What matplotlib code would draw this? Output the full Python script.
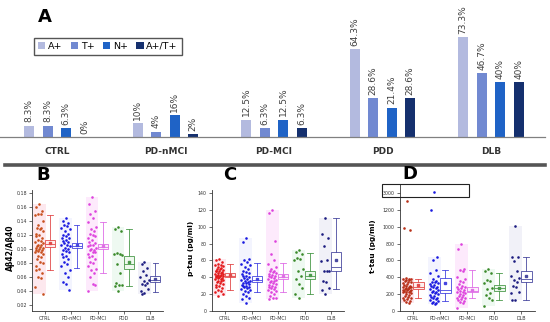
import numpy as np
import matplotlib
matplotlib.use("Agg")
import matplotlib.pyplot as plt
from matplotlib.patches import Patch, Rectangle
from matplotlib.lines import Line2D

# ---------------- data ----------------
groups = ["CTRL", "PD-nMCI", "PD-MCI", "PDD", "DLB"]

# Panel A: percent positive
a_pos = [8.3, 10, 12.5, 64.3, 73.3]
t_pos = [8.3, 4, 6.3, 28.6, 46.7]
n_pos = [6.3, 16, 12.5, 21.4, 40]
at_pos = [0, 2, 6.3, 28.6, 40]
a_series = ["A+", "T+", "N+", "A+/T+"]

# Panel B: Abeta42/Abeta40
b_ctrl = [0.165, 0.16, 0.155, 0.15, 0.15, 0.148, 0.14, 0.135, 0.13, 0.13, 0.128, 0.125, 0.122,
          0.12, 0.118, 0.115, 0.113, 0.112, 0.11, 0.108, 0.106, 0.105, 0.104, 0.103, 0.102,
          0.101, 0.1, 0.099, 0.098, 0.097, 0.096, 0.095, 0.093, 0.09, 0.088, 0.085, 0.082,
          0.08, 0.075, 0.072, 0.07, 0.065, 0.06, 0.058, 0.045, 0.036]
b_nmci = [0.145, 0.14, 0.137, 0.135, 0.133, 0.13, 0.128, 0.125, 0.122, 0.12, 0.118, 0.116,
          0.115, 0.113, 0.112, 0.11, 0.108, 0.106, 0.105, 0.104, 0.102, 0.1, 0.099, 0.097,
          0.095, 0.093, 0.09, 0.088, 0.085, 0.082, 0.078, 0.075, 0.07, 0.065, 0.06, 0.053,
          0.05, 0.041]
b_mci = [0.175, 0.165, 0.155, 0.15, 0.145, 0.138, 0.132, 0.128, 0.125, 0.122, 0.12, 0.118,
         0.115, 0.113, 0.11, 0.108, 0.106, 0.105, 0.104, 0.102, 0.1, 0.099, 0.098, 0.096,
         0.095, 0.093, 0.09, 0.088, 0.085, 0.082, 0.08, 0.076, 0.072, 0.07, 0.065, 0.06,
         0.05, 0.048, 0.04]
b_pdd = [0.132, 0.128, 0.125, 0.094, 0.093, 0.092, 0.093, 0.079, 0.065, 0.052, 0.049, 0.048,
         0.047, 0.040]
b_dlb = [0.081, 0.079, 0.073, 0.068, 0.063, 0.06, 0.056, 0.054, 0.051, 0.05, 0.049, 0.043,
         0.04, 0.037, 0.035]
# box stats: whislo, q1, med, mean, q3, whishi
b_box = [[0.070, 0.1033, 0.1075, 0.1086, 0.1128, 0.149],
         [0.073, 0.101, 0.1045, 0.105, 0.108, 0.134],
         [0.065, 0.100, 0.1035, 0.104, 0.107, 0.138],
         [0.047, 0.072, 0.079, 0.081, 0.090, 0.128],
         [0.038, 0.053, 0.056, 0.057, 0.062, 0.080]]

# Panel C: p-tau
c_ctrl = [62, 60, 58, 56, 55, 54, 53, 52, 51, 50, 50, 49, 48, 47, 47, 46, 45, 45, 44, 44, 43,
          43, 42, 42, 41, 41, 40, 40, 39, 39, 38, 38, 37, 36, 35, 34, 33, 32, 31, 30, 28, 27,
          25, 24, 22, 20, 18]
c_nmci = [87, 82, 62, 60, 58, 56, 54, 52, 50, 48, 46, 45, 44, 42, 41, 40, 39, 38, 37, 36, 35,
          34, 33, 33, 32, 31, 30, 30, 29, 28, 27, 26, 25, 24, 22, 20, 18, 16, 14, 10]
c_mci = [120, 116, 83, 68, 60, 56, 52, 50, 48, 47, 46, 45, 44, 43, 42, 41, 40, 39, 38, 37, 36,
         35, 34, 33, 32, 31, 30, 29, 28, 27, 26, 25, 24, 22, 20, 18, 16, 15, 14]
c_pdd = [72, 70, 68, 63, 62, 60, 50, 47, 42, 38, 32, 27, 20, 15]
c_dlb = [110, 91, 87, 77, 61, 59, 47, 47, 47, 36, 34, 27, 25, 20]
c_box = [[25, 40, 42, 42.5, 45, 56],
         [22, 34, 37, 37.5, 41, 57],
         [23, 38, 40, 41, 44, 57],
         [20, 38, 42, 43, 48, 69],
         [26, 47, 52, 61, 70, 110]]

# Panel D: t-tau
d_ctrl = [1310, 990, 960, 390, 385, 380, 375, 370, 365, 360, 350, 340, 330, 320, 310, 300,
          295, 290, 285, 280, 275, 270, 265, 260, 255, 250, 245, 240, 235, 230, 225, 220, 210,
          200, 190, 180, 170, 160, 150, 140, 130, 120, 110, 100]
d_nmci = [3200, 1200, 640, 610, 490, 450, 410, 380, 360, 350, 340, 330, 320, 310, 300, 290,
          280, 270, 260, 250, 240, 230, 220, 210, 200, 190, 180, 170, 160, 150, 140, 130, 120,
          110, 100, 90, 80]
d_mci = [800, 740, 500, 490, 480, 400, 380, 360, 340, 320, 300, 290, 280, 270, 260, 250, 240,
         230, 220, 210, 200, 190, 180, 170, 160, 150, 140, 130, 120, 110, 100, 40]
d_pdd = [495, 470, 450, 370, 360, 330, 270, 260, 210, 190, 150, 130, 60]
d_dlb = [1010, 645, 640, 595, 470, 410, 395, 370, 350, 300, 290, 230, 210, 130, 130]
d_box = [[155, 265, 280, 310, 350, 375],
         [115, 215, 250, 330, 390, 490],
         [150, 222, 240, 250, 289, 490],
         [125, 237, 270, 275, 309, 455],
         [130, 340, 380, 410, 475, 645]]

# ---------------- style ----------------
W, H = 550, 322
fig = plt.figure(figsize=(W / 100, H / 100), dpi=100)
plt.rcParams["font.family"] = ["DejaVu Sans"]


def px_axes(l, t, r, b):
    return fig.add_axes([l / W, 1 - b / H, (r - l) / W, (b - t) / H])


bar_colors = ["#b3badf", "#7189d1", "#1f63c6", "#15306e"]

# ---------------- Panel A ----------------
axA = px_axes(0, 0, 545, 137)
series = [a_pos, t_pos, n_pos, at_pos]
x = np.arange(len(groups))
offs = [-1.5, -0.5, 0.5, 1.5]
step = 0.1705
for k, vals in enumerate(series):
    axA.bar(x + offs[k] * step, vals, width=0.092, color=bar_colors[k], zorder=2)
    for bx, v in zip(x + offs[k] * step, vals):
        axA.annotate(f"{v:g}%", (bx, v), xytext=(0, 2.5), textcoords="offset points",
                     rotation=90, ha="center", va="bottom", fontsize=6.5, color="#404040")
axA.set_xlim(-0.525, 4.498)
axA.set_ylim(0, 100.4)
for s in ["top", "right", "left"]:
    axA.spines[s].set_visible(False)
axA.spines["bottom"].set_color("#808080")
axA.spines["bottom"].set_linewidth(0.9)
axA.set_yticks([])
axA.set_xticks(x)
axA.set_xticklabels(groups, fontsize=6.5, fontweight="bold", color="#333333")
axA.tick_params(axis="x", length=0, pad=7)
axA.patch.set_alpha(0)

handles = [Patch(facecolor=c, edgecolor="none") for c in bar_colors]
fig.legend(handles, a_series, loc="upper left", bbox_to_anchor=(29 / W, 1 - 33 / H),
           ncol=4, fontsize=6.8, frameon=True, fancybox=False, edgecolor="#555555",
           handlelength=0.75, handleheight=0.75, handletextpad=0.3, columnspacing=0.9,
           borderpad=0.45, framealpha=1)
fig.text(45 / W, 1 - 17 / H, "A", fontsize=13, fontweight="bold", ha="center", va="center")

fig.add_artist(Line2D([5 / W, 545 / W], [1 - 165 / H, 1 - 165 / H], lw=2.6, color="#555555"))

# ---------------- Panels B, C, D ----------------
dot_colors_base = ["#e31a1c", "#1a1ae0", "#dd44dd", "#3a8a2a", "#1c1c80"]
box_colors = ["#e24a4a", "#4545e0", "#de6ee6", "#4a9a4a", "#4a4aa0"]
box_faces = ["#fdeeee", "#ffffff", "#fdeefb", "#eef8ee", "#ffffff"]
shade_colors = ["#fde8ee", "#f3f4fe", "#fdeafc", "#eef9f1", "#f1f1f8"]
jit = [0.0, -0.11, 0.11, -0.055, 0.055, -0.16, 0.16, -0.03, 0.085, -0.085, 0.03, 0.135, -0.135]


def draw_panel(ax, datas, boxes, ctrl_color):
    cols = [ctrl_color] + dot_colors_base[1:]
    for i, (vals, st) in enumerate(zip(datas, boxes)):
        vals = np.asarray(vals, float)
        cx = i - 0.22
        keep = vals[vals <= 2.2 * st[5]]
        ax.add_patch(Rectangle((cx - 0.24, keep.min()), 0.48, keep.max() - keep.min(),
                               facecolor=shade_colors[i], edgecolor="none", zorder=0))
        order = np.argsort(-vals)
        xs = np.empty(len(vals))
        for r, idx in enumerate(order):
            xs[idx] = cx + jit[r % len(jit)]
        ax.scatter(xs, vals, s=3.5, color=cols[i], linewidths=0, zorder=3)
        stats = [dict(whislo=st[0], q1=st[1], med=st[2], mean=st[3], q3=st[4], whishi=st[5],
                      fliers=[])]
        c = box_colors[i]
        ax.bxp(stats, positions=[i + 0.2], widths=0.38, showmeans=True, patch_artist=True,
               boxprops=dict(facecolor=box_faces[i], edgecolor=c, linewidth=0.6),
               whiskerprops=dict(color=c, linewidth=0.6),
               capprops=dict(color=c, linewidth=0.6),
               medianprops=dict(color=c, linewidth=0.6),
               meanprops=dict(marker="s", markersize=1.6, markerfacecolor=c,
                              markeredgecolor=c),
               capwidths=0.22, manage_ticks=False)
    ax.set_xlim(-0.5, 4.5)
    ax.set_xticks(np.arange(5))
    ax.set_xticklabels(groups, fontsize=3.4)
    for s in ["top", "right"]:
        ax.spines[s].set_visible(False)
    for s in ["left", "bottom"]:
        ax.spines[s].set_linewidth(0.6)
        ax.spines[s].set_color("#333333")
    ax.tick_params(axis="both", length=2, width=0.5, pad=1.5, labelsize=3.4, colors="#333333")
    ax.patch.set_alpha(0)


# B
axB = px_axes(31.85, 190, 163.35, 311)
draw_panel(axB, [b_ctrl, b_nmci, b_mci, b_pdd, b_dlb], b_box, "#c8501e")
axB.set_ylim(0.0114, 0.1843)
axB.set_yticks(np.arange(0.02, 0.181, 0.02))
axB.set_yticklabels([f"{v:.2f}" for v in np.arange(0.02, 0.181, 0.02)])
fig.text(10 / W, 1 - 248 / H, "Aβ42/Aβ40", rotation=90, fontsize=5.5, fontweight="bold",
         ha="center", va="center")
fig.text(43 / W, 1 - 175 / H, "B", fontsize=13, fontweight="bold", ha="center", va="center")

# C
axC = px_axes(211.75, 190, 344.25, 311)
draw_panel(axC, [c_ctrl, c_nmci, c_mci, c_pdd, c_dlb], c_box, "#e31a1c")
axC.set_ylim(0, 143.5)
axC.set_yticks(np.arange(0, 141, 20))
fig.text(191 / W, 1 - 248 / H, "p-tau (pg/ml)", rotation=90, fontsize=5.3, fontweight="bold",
         ha="center", va="center")
fig.text(230 / W, 1 - 175 / H, "C", fontsize=13, fontweight="bold", ha="center", va="center")

# D (broken axis via function scale)
S = 100.0 / 1700.0


def fwd(y):
    y = np.asarray(y, float)
    return np.where(y <= 1300, y, 1300 + (y - 1300) * S)


def inv(v):
    v = np.asarray(v, float)
    return np.where(v <= 1300, v, 1300 + (v - 1300) / S)


axD = px_axes(399.5, 184, 534.5, 311)
axD.set_yscale("function", functions=(fwd, inv))
draw_panel(axD, [d_ctrl, d_nmci, d_mci, d_pdd, d_dlb], d_box, "#b83018")
axD.set_ylim(0, float(inv(1508)))
axD.set_yticks([0, 200, 400, 600, 800, 1000, 1200, 3000])
axD.set_yticklabels(["0", "200", "400", "600", "800", "1000", "1200", "3000"])
axD.yaxis.set_minor_locator(matplotlib.ticker.NullLocator())
fig.text(373 / W, 1 - 246 / H, "t-tau (pg/ml)", rotation=90, fontsize=5.3, fontweight="bold",
         ha="center", va="center")
fig.text(410 / W, 1 - 174 / H, "D", fontsize=13, fontweight="bold", ha="center", va="center")
fig.add_artist(Rectangle((382 / W, 1 - 197 / H), 87 / W, 13 / H, transform=fig.transFigure,
                         fill=False, edgecolor="#222222", linewidth=0.8))

fig.savefig("out.png", dpi=100)
